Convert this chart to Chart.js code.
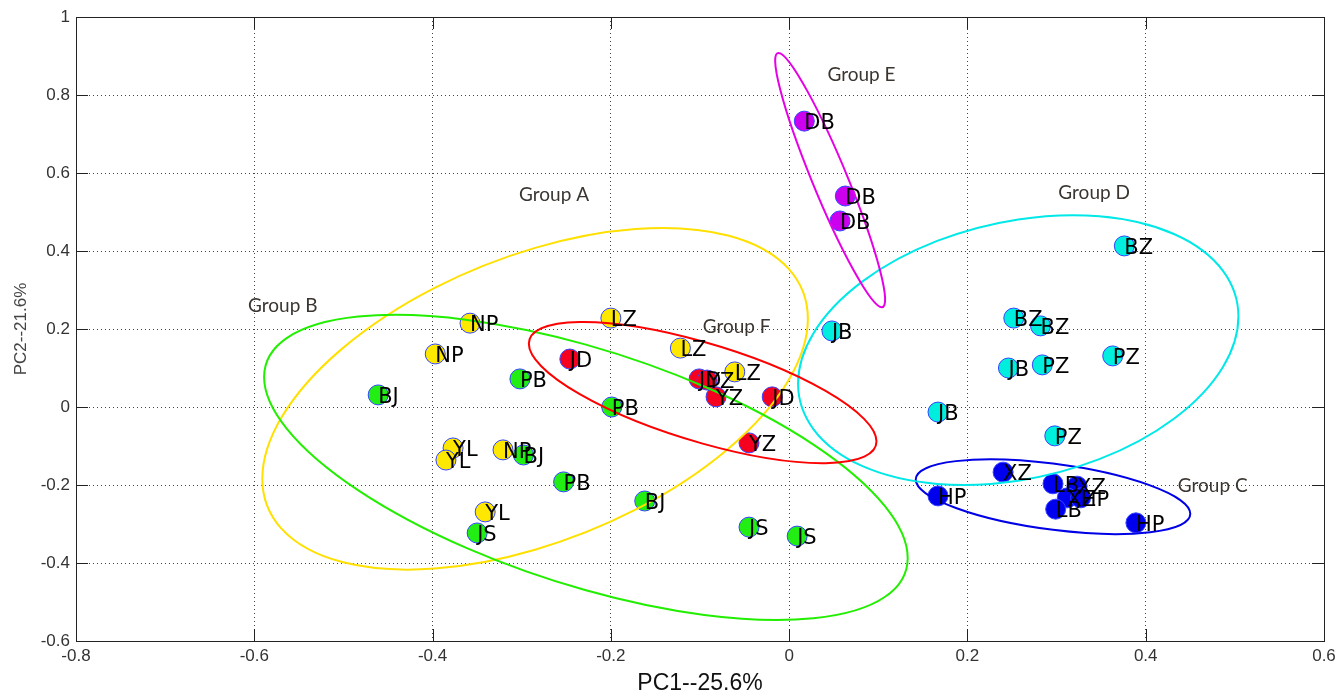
<!DOCTYPE html>
<html>
<head>
<meta charset="utf-8">
<script src="https://cdn.jsdelivr.net/npm/chart.js@4.4.1/dist/chart.umd.min.js"></script>
<style>
  html, body { margin: 0; padding: 0; background: #fff; }
</style>
</head>
<body>
<canvas id="pca" width="1342" height="700"></canvas>
<script>
// PCA scores (PC1, PC2), one set per group
const groupANames = ['NP', 'NP', 'NP', 'LZ', 'LZ', 'LZ', 'YL', 'YL', 'YL'];
const groupAX = [-0.358, -0.397, -0.321, -0.200, -0.122, -0.061, -0.377, -0.385, -0.341];
const groupAY = [0.215, 0.136, -0.110, 0.228, 0.151, 0.090, -0.105, -0.136, -0.269];

const groupBNames = ['BJ', 'BJ', 'BJ', 'PB', 'PB', 'PB', 'JS', 'JS', 'JS'];
const groupBX = [-0.461, -0.298, -0.162, -0.302, -0.199, -0.253, -0.350, -0.045, 0.009];
const groupBY = [0.031, -0.123, -0.241, 0.072, 0.000, -0.192, -0.323, -0.308, -0.331];

const groupCNames = ['XZ', 'XZ', 'XZ', 'HP', 'HP', 'HP', 'LB', 'LB'];
const groupCX = [0.240, 0.323, 0.312, 0.167, 0.327, 0.389, 0.296, 0.299];
const groupCY = [-0.167, -0.203, -0.233, -0.228, -0.233, -0.297, -0.197, -0.262];

const groupDNames = ['BZ', 'BZ', 'BZ', 'PZ', 'PZ', 'PZ', 'JB', 'JB', 'JB'];
const groupDX = [0.376, 0.252, 0.282, 0.363, 0.284, 0.298, 0.048, 0.246, 0.167];
const groupDY = [0.413, 0.228, 0.208, 0.131, 0.108, -0.074, 0.195, 0.100, -0.013];

const groupENames = ['DB', 'DB', 'DB'];
const groupEX = [0.017, 0.063, 0.057];
const groupEY = [0.733, 0.541, 0.477];

const groupFNames = ['JD', 'JD', 'JD', 'YZ', 'YZ', 'YZ'];
const groupFX = [-0.246, -0.101, -0.019, -0.092, -0.082, -0.045];
const groupFY = [0.123, 0.072, 0.026, 0.069, 0.026, -0.092];

// group captions and where they sit (data units)
const groupTitles = ['Group A', 'Group B', 'Group C', 'Group D', 'Group E', 'Group F'];
const groupTitleX = [-0.303, -0.607, 0.436, 0.302, 0.043, -0.097];
const groupTitleY = [0.544, 0.259, -0.203, 0.549, 0.851, 0.205];

// confidence ellipses: centre and two conjugate half-diameters (data units)
const ellipseCX = [-0.285, -0.228, 0.296, 0.257, 0.046, -0.097];
const ellipseCY = [0.021, -0.155, -0.230, 0.146, 0.582, 0.037];
const ellipseUX = [0.306, 0.361, 0.154, 0.247, 0.058, 0.195];
const ellipseUY = [0.205, -0.232, -0.044, 0.086, -0.326, -0.125];
const ellipseVX = [0, 0, 0, 0, 0.021, 0];
const ellipseVY = [0.387, 0.315, 0.085, 0.335, 0, 0.131];

const xTicks = [-0.8, -0.6, -0.4, -0.2, 0, 0.2, 0.4, 0.6];
const yTicks = [-0.6, -0.4, -0.2, 0, 0.2, 0.4, 0.6, 0.8, 1];

const fills = ['#FFE800', '#22EE14', '#0000EE', '#00EEDD', '#CC00EE', '#F5001E'];
const lines = ['#FFE000', '#22EE00', '#0000E6', '#00E8E8', '#E600E6', '#FF0000'];

function makeSet(names, xs, ys, k) {
    return {
        label: groupTitles[k],
        names: names,
        data: xs.map((x, i) => ({ x: x, y: ys[i] })),
        backgroundColor: fills[k],
        borderColor: '#3344FF',
        borderWidth: 1,
        pointRadius: 10,
        pointHoverRadius: 10
    };
}

// listed top-first: Chart.js draws the first dataset last
const datasets = [
    makeSet(groupBNames, groupBX, groupBY, 1),
    makeSet(groupANames, groupAX, groupAY, 0),
    makeSet(groupFNames, groupFX, groupFY, 5),
    makeSet(groupDNames, groupDX, groupDY, 3),
    makeSet(groupCNames, groupCX, groupCY, 2),
    makeSet(groupENames, groupEX, groupEY, 4)
];
const ellipseColorIndex = [0, 1, 2, 3, 4, 5];

// ellipses, point names, group captions and the MATLAB-style box
const overlay = {
    id: 'overlay',
    afterDatasetsDraw(chart) {
        const ctx = chart.ctx;
        const xs = chart.scales.x, ys = chart.scales.y;
        const area = chart.chartArea;

        // ellipses
        for (let k = 0; k < ellipseCX.length; k++) {
            const cx = xs.getPixelForValue(ellipseCX[k]);
            const cy = ys.getPixelForValue(ellipseCY[k]);
            const ux = xs.getPixelForValue(ellipseCX[k] + ellipseUX[k]) - cx;
            const uy = ys.getPixelForValue(ellipseCY[k] + ellipseUY[k]) - cy;
            const vx = xs.getPixelForValue(ellipseCX[k] + ellipseVX[k]) - cx;
            const vy = ys.getPixelForValue(ellipseCY[k] + ellipseVY[k]) - cy;
            ctx.save();
            ctx.transform(ux, uy, vx, vy, cx, cy);
            ctx.beginPath();
            ctx.arc(0, 0, 1, 0, Math.PI * 2);
            ctx.restore();
            ctx.save();
            ctx.strokeStyle = lines[ellipseColorIndex[k]];
            ctx.lineWidth = 2;
            ctx.stroke();
            ctx.restore();
        }

        // sample names next to every point
        ctx.save();
        ctx.font = '21px "DejaVu Sans"';
        ctx.fillStyle = '#000';
        ctx.textAlign = 'left';
        ctx.textBaseline = 'alphabetic';
        for (let d = datasets.length - 1; d >= 0; d--) {
            const meta = chart.getDatasetMeta(d);
            meta.data.forEach((pt, i) => {
                ctx.fillText(datasets[d].names[i], pt.x, pt.y + 8);
            });
        }
        ctx.restore();

        // group captions
        ctx.save();
        ctx.font = '19px Lato';
        ctx.fillStyle = '#3a3530';
        ctx.textAlign = 'left';
        ctx.textBaseline = 'middle';
        groupTitles.forEach((t, k) => {
            ctx.fillText(t, xs.getPixelForValue(groupTitleX[k]), ys.getPixelForValue(groupTitleY[k]));
        });
        ctx.restore();

        // box and inward tick marks
        ctx.save();
        ctx.strokeStyle = '#222';
        ctx.lineWidth = 1;
        ctx.strokeRect(area.left + 0.5, area.top + 0.5, area.right - area.left, area.bottom - area.top);
        ctx.beginPath();
        xTicks.forEach(v => {
            const p = Math.round(xs.getPixelForValue(v)) + 0.5;
            ctx.moveTo(p, area.bottom); ctx.lineTo(p, area.bottom - 12);
            ctx.moveTo(p, area.top); ctx.lineTo(p, area.top + 12);
        });
        yTicks.forEach(v => {
            const p = Math.round(ys.getPixelForValue(v)) + 0.5;
            ctx.moveTo(area.left, p); ctx.lineTo(area.left + 12, p);
            ctx.moveTo(area.right, p); ctx.lineTo(area.right - 12, p);
        });
        ctx.stroke();
        ctx.restore();
    }
};

const tickFmt = v => String(Math.round(v * 10) / 10);

new Chart(document.getElementById('pca'), {
    type: 'scatter',
    data: { datasets: datasets },
    options: {
        responsive: false,
        animation: false,
        devicePixelRatio: 1,
        layout: { padding: { left: 0, right: 18, top: 17, bottom: 0 } },
        plugins: { legend: { display: false }, tooltip: { enabled: false } },
        scales: {
            x: {
                type: 'linear',
                min: -0.8, max: 0.6,
                afterFit: s => { s.height = 59; },
                afterBuildTicks: s => { s.ticks = xTicks.map(v => ({ value: v })); },
                ticks: { callback: tickFmt, padding: 5, color: '#333', font: { family: 'Liberation Sans', size: 17 }, maxRotation: 0 },
                grid: { drawTicks: false, color: '#444', lineWidth: 1 },
                border: { display: true, color: '#222', dash: [1, 3] },
                title: { display: true, text: 'PC1--25.6%', color: '#111', font: { family: 'Liberation Sans', size: 23 }, padding: { top: 2, bottom: 3 } }
            },
            y: {
                type: 'linear',
                min: -0.6, max: 1,
                afterFit: s => { s.width = 76; },
                afterBuildTicks: s => { s.ticks = yTicks.map(v => ({ value: v })); },
                ticks: { callback: tickFmt, padding: 6, color: '#333', font: { family: 'Liberation Sans', size: 17 } },
                grid: { drawTicks: false, color: '#444', lineWidth: 1 },
                border: { display: true, color: '#222', dash: [1, 3] },
                title: { display: true, text: 'PC2--21.6%', color: '#444', font: { family: 'Liberation Sans', size: 17 }, padding: { top: 11, bottom: 0 } }
            }
        }
    },
    plugins: [overlay]
});
</script>
</body>
</html>
